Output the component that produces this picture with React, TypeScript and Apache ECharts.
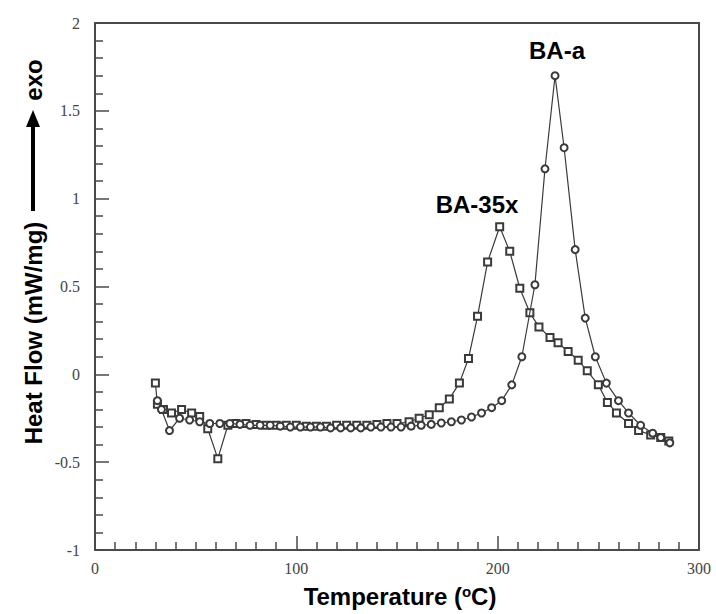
import React, { useEffect, useRef } from "react";
import * as echarts from "echarts";

// BA-35x (square markers): [temperature °C, heat flow mW/mg]
const ba35xData: [number, number][] = [
  [30, -0.05], [31, -0.17], [34, -0.2], [38, -0.22], [43, -0.2], [48, -0.22],
  [52, -0.24], [56, -0.31], [61, -0.48], [66, -0.29], [70, -0.28], [75, -0.28],
  [80, -0.285], [85, -0.29], [90, -0.29], [95, -0.29], [100, -0.29], [105, -0.295],
  [110, -0.295], [115, -0.295], [120, -0.29], [125, -0.29], [130, -0.29], [135, -0.29],
  [140, -0.285], [145, -0.28], [150, -0.28], [156, -0.27], [161, -0.25], [166, -0.23],
  [171, -0.19], [176, -0.14], [181, -0.05], [185.5, 0.09], [190, 0.33], [195, 0.64],
  [201, 0.84], [206, 0.7], [211, 0.49], [216, 0.35], [220.5, 0.27], [226, 0.21],
  [230, 0.18], [235, 0.13], [240, 0.08], [244.5, 0.02], [250, -0.06], [254.5, -0.16],
  [259, -0.22], [265, -0.28], [270, -0.32], [276, -0.345], [281, -0.36], [285, -0.38],
];

// BA-a (circle markers)
const baAData: [number, number][] = [
  [31, -0.15], [33, -0.2], [37, -0.32], [42, -0.25], [47, -0.26], [52, -0.27],
  [57, -0.28], [62, -0.28], [67, -0.28], [72, -0.285], [77, -0.29], [82, -0.29],
  [87, -0.29], [92, -0.295], [97, -0.3], [102, -0.3], [107, -0.3], [112, -0.3],
  [117, -0.305], [122, -0.305], [127, -0.305], [132, -0.305], [137, -0.3], [142, -0.3],
  [147, -0.3], [152, -0.3], [157, -0.295], [162, -0.29], [167, -0.285], [172, -0.277],
  [177, -0.27], [182, -0.26], [187, -0.243], [192, -0.22], [197, -0.19], [202, -0.15],
  [207, -0.06], [212, 0.1], [218.5, 0.51], [223.5, 1.17], [228.5, 1.7], [233, 1.29],
  [238.5, 0.71], [243.5, 0.32], [248.5, 0.1], [254, -0.05], [260, -0.15], [265, -0.22],
  [271, -0.29], [277, -0.335], [281, -0.36], [285.5, -0.39],
];

const seriesNames = ["BA-35x", "BA-a"];
const xTitle = "Temperature";
const yTitle = "Heat Flow (mW/mg)";
const exoLabel = "exo";

export default function App() {
  const ref = useRef<HTMLDivElement>(null);
  useEffect(() => {
    if (!ref.current) return;
    const chart = echarts.init(ref.current, null, { renderer: "svg" });
    const sans = "Liberation Sans";
    const serif = "Liberation Serif";
    const axisColor = "#4a4a4a";
    const lineColor = "#3a3a3a";
    const frameAxis = {
      type: "value",
      axisLine: { show: true, onZero: false, lineStyle: { color: axisColor, width: 2 } },
      axisTick: { show: false },
      axisLabel: { show: false },
      splitLine: { show: false },
    };
    chart.setOption({
      animation: false,
      backgroundColor: "#ffffff",
      grid: { left: 95, top: 23, right: 17, bottom: 64 },
      xAxis: [
        {
          type: "value",
          min: 0,
          max: 300,
          interval: 100,
          axisLine: { show: true, onZero: false, lineStyle: { color: axisColor, width: 2 } },
          axisTick: { show: true, inside: true, length: 14, lineStyle: { color: axisColor, width: 1.5 } },
          minorTick: { show: true, splitNumber: 10, length: 8, lineStyle: { color: axisColor, width: 1.5 } },
          splitLine: { show: false },
          axisLabel: { color: "#444", fontFamily: serif, fontSize: 16, margin: 10 },
        },
        { ...frameAxis, position: "top", min: 0, max: 300 },
      ],
      yAxis: [
        {
          type: "value",
          min: -1,
          max: 2,
          interval: 0.5,
          axisLine: { show: true, onZero: false, lineStyle: { color: axisColor, width: 2 } },
          axisTick: { show: true, inside: true, length: 14, lineStyle: { color: axisColor, width: 1.5 } },
          minorTick: { show: true, splitNumber: 5, length: 8, lineStyle: { color: axisColor, width: 1.5 } },
          splitLine: { show: false },
          axisLabel: { color: "#444", fontFamily: serif, fontSize: 16, margin: 15 },
        },
        { ...frameAxis, position: "right", min: -1, max: 2 },
      ],
      series: [
        {
          name: seriesNames[0],
          type: "line",
          data: ba35xData,
          symbol: "emptyRect",
          symbolSize: 7,
          lineStyle: { color: lineColor, width: 1.2 },
          itemStyle: { color: lineColor, borderColor: lineColor, borderWidth: 1.2 },
          z: 3,
        },
        {
          name: seriesNames[1],
          type: "line",
          data: baAData,
          symbol: "emptyCircle",
          symbolSize: 7,
          lineStyle: { color: lineColor, width: 1.2 },
          itemStyle: { color: lineColor, borderColor: lineColor, borderWidth: 1.2 },
          z: 4,
        },
      ],
      graphic: [
        {
          type: "text",
          x: 400,
          y: 596,
          style: {
            text: xTitle + " ({sup|o}C)",
            font: `bold 24px "${sans}"`,
            fill: "#000",
            align: "center",
            verticalAlign: "middle",
            rich: {
              sup: { fontSize: 15, fontWeight: "bold", fontFamily: sans, verticalAlign: "top", padding: [0, 0, 10, 0], fill: "#000" },
            },
          },
        },
        {
          type: "text",
          x: 33,
          y: 333,
          rotation: Math.PI / 2,
          style: {
            text: yTitle,
            font: `bold 24px "${sans}"`,
            fill: "#000",
            align: "center",
            verticalAlign: "middle",
          },
        },
        {
          type: "line",
          shape: { x1: 33, y1: 211, x2: 33, y2: 125 },
          style: { stroke: "#000", lineWidth: 4 },
        },
        {
          type: "polygon",
          shape: { points: [[26, 127], [40, 127], [33, 110]] },
          style: { fill: "#000" },
        },
        {
          type: "text",
          x: 33,
          y: 80,
          rotation: Math.PI / 2,
          style: {
            text: exoLabel,
            font: `bold 24px "${sans}"`,
            fill: "#000",
            align: "center",
            verticalAlign: "middle",
          },
        },
        {
          type: "text",
          x: 557,
          y: 50,
          style: {
            text: seriesNames[1],
            font: `bold 24px "${sans}"`,
            fill: "#000",
            align: "center",
            verticalAlign: "middle",
          },
        },
        {
          type: "text",
          x: 477,
          y: 204,
          style: {
            text: seriesNames[0],
            font: `bold 24px "${sans}"`,
            fill: "#000",
            align: "center",
            verticalAlign: "middle",
          },
        },
      ],
    });
    return () => chart.dispose();
  }, []);
  return (
    <div
      ref={ref}
      style={{ position: "fixed", left: 0, top: 0, width: 716, height: 614 }}
    />
  );
}
